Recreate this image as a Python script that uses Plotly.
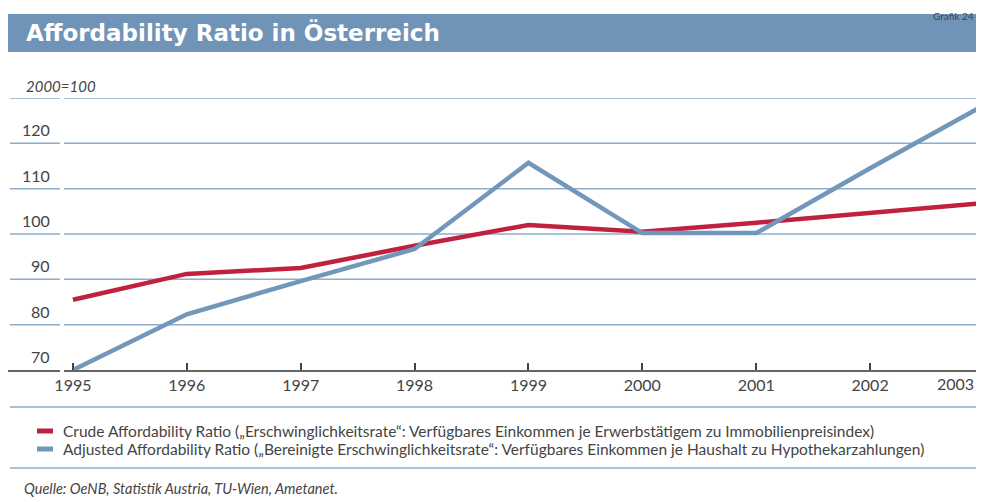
# -*- coding: utf-8 -*-

import plotly.graph_objs as go

# data (2000=100)
years = [1995, 1996, 1997, 1998, 1999, 2000, 2001, 2002, 2003]
crude = [85.5, 91.2, 92.5, 97.4, 102.0, 100.5, 102.5, 104.7, 106.8]
adjusted = [70.0, 82.3, 89.6, 96.7, 115.7, 100.2, 100.2, 114.5, 128.4]

y_ticks = [70, 80, 90, 100, 110, 120, 130]
y_labels = ['70', '80', '90', '100', '110', '120', '2000=100']

names = [
    'Crude Affordability Ratio (\u201eErschwinglichkeitsrate\u201c: Verfügbares Einkommen je Erwerbstätigem zu Immobilienpreisindex)',
    'Adjusted Affordability Ratio (\u201eBereinigte Erschwinglichkeitsrate\u201c: Verfügbares Einkommen je Haushalt zu Hypothekarzahlungen)',
]

title = 'Affordability Ratio in Österreich'
source = 'Quelle: OeNB, Statistik Austria, TU-Wien, Ametanet.'

red = '#c0213f'
blue = '#7197bb'
grid = '#8eaccb'
txt = '#444444'
fnt = 'Lato'

trace1 = go.Scatter(x=years, y=crude, mode='lines', name=names[0],
                    line=dict(color=red, width=4.5))
trace2 = go.Scatter(x=years, y=adjusted, mode='lines', name=names[1],
                    line=dict(color=blue, width=4.5))

fig = go.Figure(data=[trace1, trace2])

# page pixels -> paper coords (figure sits at 8,8 in the page;
# plot area is 8..984 px wide, 98..370 px high on the page)
def py(pix):
    return (370 - pix) / 272.0

def px(pix):
    return (pix - 8) / 976.0

shapes = []
# title banner
shapes.append(dict(type='rect', xref='paper', yref='paper', x0=0, x1=1,
                   y0=py(52), y1=py(14), fillcolor='#6f94b8', line_width=0,
                   layer='below'))
# gridlines (excluding axis line)
for v in y_ticks[1:]:
    shapes.append(dict(type='line', xref='paper', yref='y', x0=px(10), x1=1,
                       y0=v, y1=v, line=dict(color=grid, width=1.5), layer='below'))
# small gap in grid/axis left of 1995
shapes.append(dict(type='rect', xref='paper', yref='paper',
                   x0=px(60), x1=px(64), y0=-0.01, y1=1.01,
                   fillcolor='white', line_width=0, layer='above'))
# separator lines around legend
for p in [407, 468]:
    shapes.append(dict(type='line', xref='paper', yref='paper', x0=px(10), x1=1,
                       y0=py(p), y1=py(p), line=dict(color=grid, width=1.5)))

# legend keys
for p, c in [(431, red), (449, blue)]:
    shapes.append(dict(type='line', xref='paper', yref='paper', x0=px(37), x1=px(53),
                       y0=py(p), y1=py(p), line=dict(color=c, width=5)))

annotations = []
annotations.append(dict(text=title, xref='paper', yref='paper',
                        x=px(24), y=py(33), xanchor='left', yanchor='middle',
                        showarrow=False,
                        font=dict(family='DejaVu Sans', size=23, color='white', weight='bold')))
for v, lab in zip(y_ticks, y_labels):
    if v == 130:
        annotations.append(dict(text='<i>' + lab + '</i>', xref='paper', yref='y',
                                x=px(24), y=v, xanchor='left', yanchor='bottom',
                                yshift=1, showarrow=False,
                                font=dict(family=fnt, size=15, color=txt)))
    else:
        annotations.append(dict(text=lab, xref='paper', yref='y',
                                x=px(52), y=v, xanchor='right', yanchor='bottom',
                                yshift=2, showarrow=False,
                                font=dict(family=fnt, size=16, color=txt)))
# last year label sits against the right edge
annotations.append(dict(text=str(years[-1]), xref='paper', yref='paper', x=1, y=0,
                        xanchor='right', yanchor='top', xshift=-8, yshift=-2,
                        showarrow=False, font=dict(family=fnt, size=16, color=txt)))
for p, nm in zip([431, 449], names):
    annotations.append(dict(text=nm, xref='paper', yref='paper', x=px(61), y=py(p),
                            xanchor='left', yanchor='middle', showarrow=False,
                            font=dict(family=fnt, size=15.5, color=txt)))
annotations.append(dict(text='<i>' + source + '</i>', xref='paper', yref='paper',
                        x=px(22), y=py(488), xanchor='left', yanchor='middle',
                        showarrow=False, font=dict(family=fnt, size=14.5, color=txt)))
annotations.append(dict(text='Grafik 24', xref='paper', yref='paper', x=1, y=py(8),
                        xanchor='right', yanchor='top', xshift=-8, showarrow=False,
                        font=dict(family=fnt, size=10, color=txt)))

fig.update_layout(
    width=976, height=494,
    margin=dict(l=0, r=0, t=90, b=132),
    paper_bgcolor='white', plot_bgcolor='white',
    font=dict(family=fnt, color=txt),
    showlegend=False,
    xaxis=dict(range=[1994.43, 2003.0], tickvals=years[:-1],
               ticktext=[str(y) for y in years[:-1]],
               showgrid=False, zeroline=False, showline=True, linecolor='#666666',
               linewidth=2, ticks='inside', ticklen=7, tickwidth=1.5, tickcolor='#444444',
               tickfont=dict(family=fnt, size=16, color=txt), fixedrange=True),
    yaxis=dict(range=[70, 130], showgrid=False, zeroline=False, showticklabels=False,
               showline=False, fixedrange=True),
    shapes=shapes,
    annotations=annotations,
)

fig.write_html("out.html")
